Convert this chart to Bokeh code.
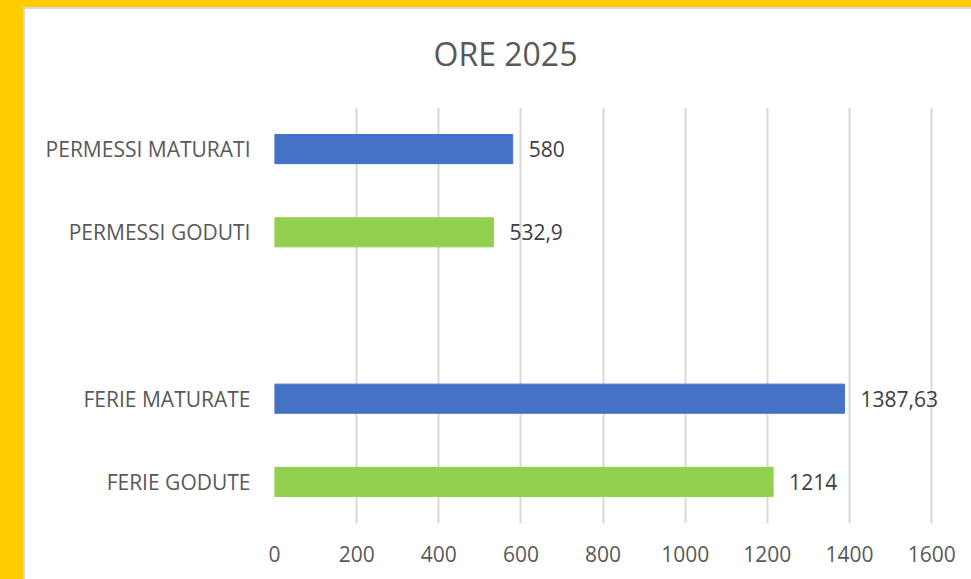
from bokeh.plotting import figure
from bokeh.models import Range1d, FactorRange, ColumnDataSource, FixedTicker
from bokeh.core.properties import value
from bokeh.embed import file_html
from bokeh.resources import INLINE

# ---- data ----
title_text = "ORE 2025"
rows_top_down = ["PERMESSI MATURATI", "PERMESSI GODUTI", " ", "FERIE MATURATE", "FERIE GODUTE"]
categories = ["PERMESSI MATURATI", "PERMESSI GODUTI", "FERIE MATURATE", "FERIE GODUTE"]
values = [580, 532.9, 1387.63, 1214]
value_labels = ["580", "532,9", "1387,63", "1214"]
series = ["maturati", "goduti", "maturati", "goduti"]
x_ticks = [0, 200, 400, 600, 800, 1000, 1200, 1400, 1600]

BLUE = "#4472C4"
GREEN = "#92D050"
YELLOW = "#FFCC00"
EDGE = "#D9D9D9"
FONT = "Open Sans"

colors = [BLUE if s == "maturati" else GREEN for s in series]
src = ColumnDataSource(dict(cat=categories, val=values, lab=value_labels, col=colors))

page_bg = (
    f"linear-gradient(to right, {YELLOW} 23px, transparent 23px), "
    f"linear-gradient(to bottom, {YELLOW} 7px, {EDGE} 7px, {EDGE} 9px, transparent 9px), "
    f"linear-gradient(to right, transparent 23px, {EDGE} 23px, {EDGE} 25px, white 25px)"
)

p = figure(
    width=971, height=579,
    y_range=FactorRange(factors=list(reversed(rows_top_down)), range_padding=0),
    x_range=Range1d(0, 1697),
    output_backend="svg", toolbar_location=None,
    min_border_left=274, min_border_right=0, min_border_top=107, min_border_bottom=56,
    frame_width=697, frame_height=416,
    styles={"background": page_bg},
)
p.title.text = title_text
p.title.align = "left"
p.title.offset = 159
p.title.vertical_align = "top"
p.title.standoff = 62
p.title.text_font = FONT
p.title.text_font_size = "32px"
p.title.text_font_style = "normal"
p.title.text_color = "#595959"

p.hbar(y="cat", right="val", left=0, height=0.35, color="col", line_color="col", source=src)
p.text(x="val", y="cat", text="lab", source=src, x_offset=16,
       text_baseline="middle", text_align="left",
       text_font=value(FONT), text_font_size="21px", text_color="#404040")

p.xaxis.ticker = FixedTicker(ticks=x_ticks)
for ax in (p.xaxis[0], p.yaxis[0]):
    ax.axis_line_color = None
    ax.major_tick_line_color = None
    ax.minor_tick_line_color = None
    ax.major_label_text_font = FONT
    ax.major_label_text_font_size = "21px"
    ax.major_label_text_color = "#595959"
p.xaxis.major_label_standoff = 16
p.yaxis.major_label_standoff = 18

p.xgrid.grid_line_color = EDGE
p.xgrid.grid_line_width = 2
p.ygrid.grid_line_color = None
p.outline_line_color = None
p.background_fill_color = "white"
p.border_fill_color = None

open("out.html", "w").write(file_html(p, INLINE))
